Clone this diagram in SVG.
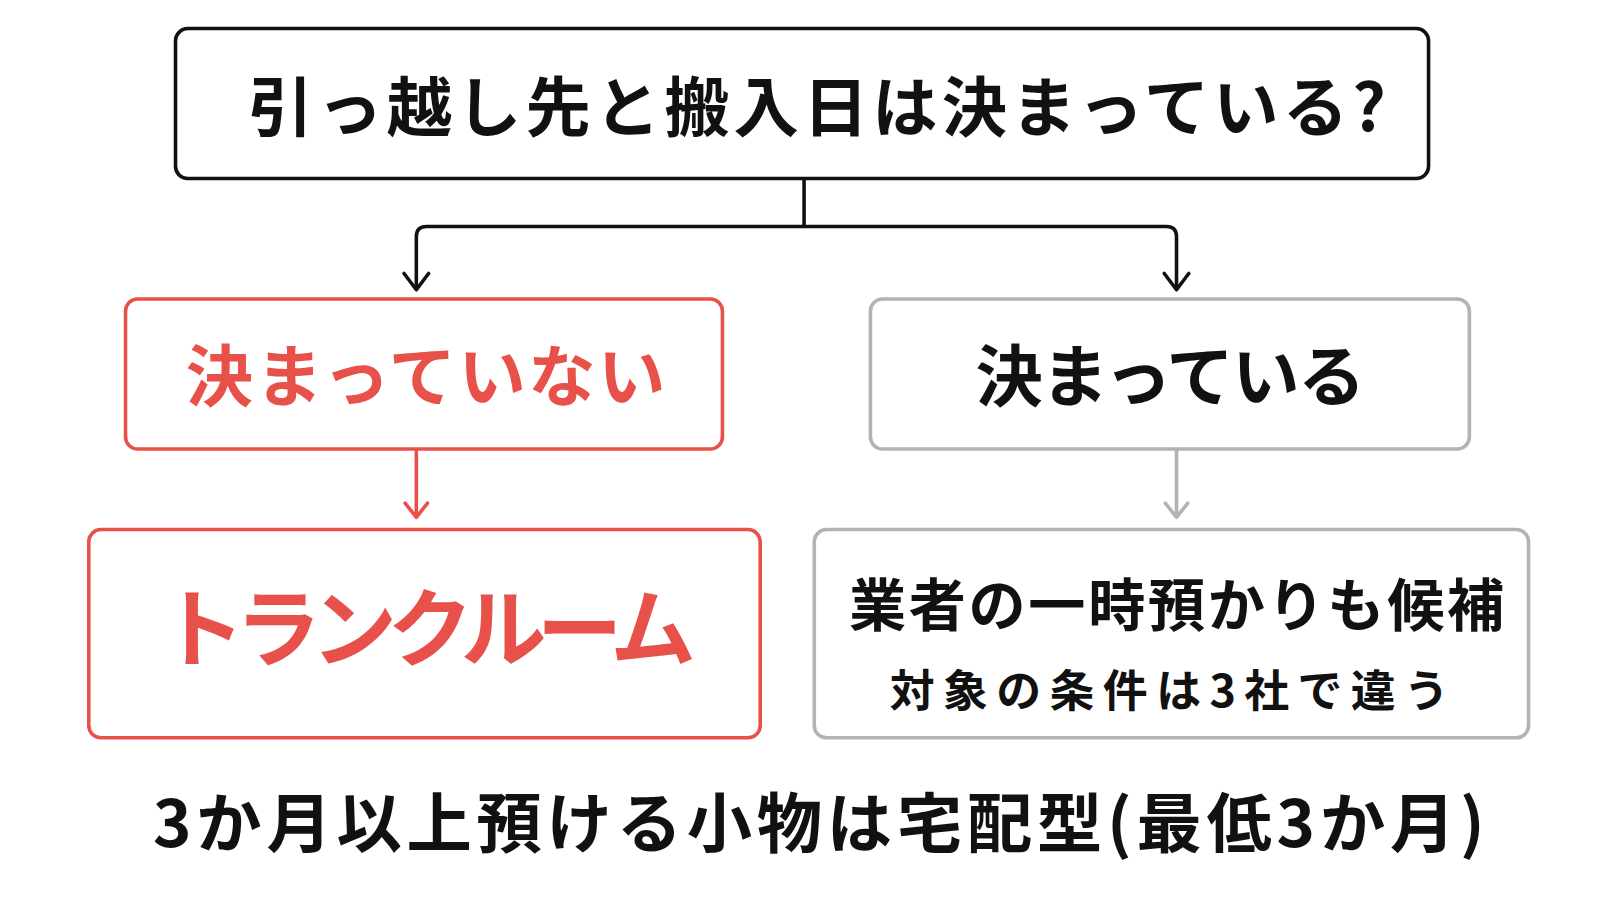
<svg xmlns="http://www.w3.org/2000/svg" width="1600" height="900" viewBox="0 0 1600 900">
<style>
text{font-family:"Noto Sans CJK JP","Noto Sans",sans-serif;font-weight:700}
.box{fill:#fff;stroke-width:3.5}
.red{stroke:#e8514a}
.gray{stroke:#b3b3b3}
.blk{stroke:#111}
.ln{fill:none;stroke-width:3.5;stroke-linecap:round;stroke-linejoin:round}
</style>
<rect width="1600" height="900" fill="#fff"/>
<g transform="scale(1.0204)">
<g id="connectors">
<path class="ln blk" d="M788 175V222M408 283V232Q408 222 418 222H1143Q1153 222 1153 232V283"/>
<path class="ln blk" d="M396 268L408 284L420 268M1141 268L1153 284L1165 268"/>
<path class="ln red" d="M408 442V507M397 493L408 507L419 493"/>
<path class="ln gray" d="M1153 442V507M1142 493L1153 507L1164 493"/>
</g>
<g id="q"><rect class="box blk" x="172" y="28" width="1228" height="147" rx="12"/>
<text x="243" y="128" font-size="64" textLength="1115" fill="#111">引っ越し先と搬入日は決まっている?</text></g>
<g id="no"><rect class="box red" x="123" y="293" width="585" height="147" rx="12"/>
<text x="182" y="393" font-size="66" textLength="470" fill="#e8514a">決まっていない</text></g>
<g id="yes"><rect class="box gray" x="853" y="293" width="587" height="147" rx="12"/>
<text x="956" y="393" font-size="66" textLength="382" fill="#111">決まっている</text></g>
<g id="trunk"><rect class="box red" x="87" y="519" width="658" height="204" rx="12"/>
<text x="156" y="647" font-size="84" textLength="526" fill="#e8514a">トランクルーム</text></g>
<g id="gyosha"><rect class="box gray" x="798" y="519" width="700" height="204" rx="12"/>
<text x="832" y="613" font-size="56" textLength="642" fill="#111">業者の一時預かりも候補</text>
<text x="872" y="693" font-size="44" textLength="548" fill="#111">対象の条件は3社で違う</text></g>
<text x="150" y="830" font-size="64" textLength="1305" fill="#111">3か月以上預ける小物は宅配型(最低3か月)</text>
</g>
</svg>
